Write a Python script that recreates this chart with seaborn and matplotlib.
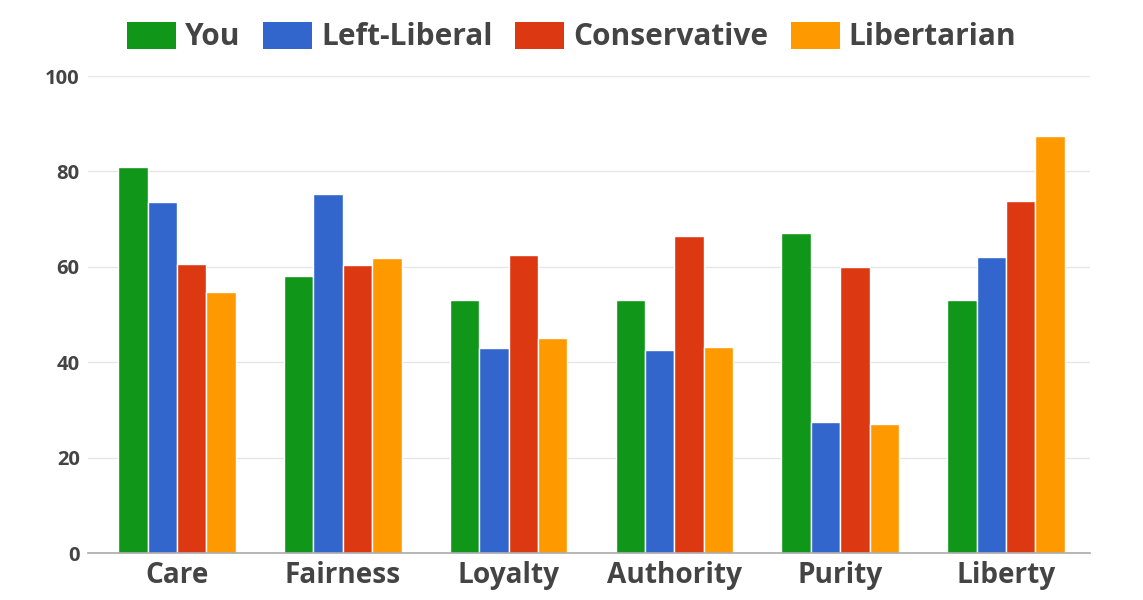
import matplotlib
matplotlib.use("Agg")
import matplotlib.pyplot as plt
import seaborn as sns
import pandas as pd
from matplotlib.patches import Patch

categories = ["Care", "Fairness", "Loyalty", "Authority", "Purity", "Liberty"]
series_names = ["You", "Left-Liberal", "Conservative", "Libertarian"]
you = [81.0, 58.1, 53.0, 53.0, 67.1, 53.0]
left_liberal = [73.6, 75.3, 43.0, 42.6, 27.5, 62.1]
conservative = [60.6, 60.4, 62.5, 66.5, 60.0, 73.8]
libertarian = [54.7, 61.8, 45.1, 43.2, 27.0, 87.4]
colors = ["#109618", "#3366CC", "#DC3912", "#FF9900"]
yticks = [0, 20, 40, 60, 80, 100]

rows = []
for name, vals in zip(series_names, [you, left_liberal, conservative, libertarian]):
    for c, v in zip(categories, vals):
        rows.append({"Foundation": c, "Group": name, "Score": v})
df = pd.DataFrame(rows)

sns.set_theme(style="white")
plt.rcParams["font.family"] = ["Open Sans", "DejaVu Sans"]

fig = plt.figure(figsize=(11.43, 6.0), dpi=100)
ax = fig.add_axes([0.077, 0.0783, 0.8767, 0.795])

sns.barplot(data=df, x="Foundation", y="Score", hue="Group", order=categories,
            hue_order=series_names, palette=colors, width=0.71, dodge=True,
            edgecolor="white", linewidth=1, saturation=1, ax=ax, legend=False)

ax.set_ylim(0, 100)
ax.set_xlim(-0.537, 5.507)
ax.set_yticks(yticks)
ax.set_yticklabels([str(t) for t in yticks])
ax.set_xlabel("")
ax.set_ylabel("")
ax.yaxis.grid(True, color="#e6e6e6", linewidth=1)
ax.set_axisbelow(True)
for s in ["left", "right", "top"]:
    ax.spines[s].set_visible(False)
ax.spines["bottom"].set_color("#aaaaaa")
ax.spines["bottom"].set_linewidth(1.2)
ax.tick_params(axis="y", length=0, pad=6, labelsize=14.5, labelcolor="#444444")
ax.tick_params(axis="x", length=0, pad=6, labelsize=20.2, labelcolor="#444444")
for lbl in ax.get_xticklabels() + ax.get_yticklabels():
    lbl.set_fontweight("bold")

handles = [Patch(facecolor=c, edgecolor="none", label=n) for c, n in zip(colors, series_names)]
fig.legend(handles=handles, loc="center", bbox_to_anchor=(0.5, 0.938), ncol=4, frameon=False,
           prop={"weight": "bold", "size": 21.5}, labelcolor="#444444",
           handlelength=1.65, handleheight=1.0, handletextpad=0.3, columnspacing=0.75)

fig.savefig("out.png", dpi=100)
